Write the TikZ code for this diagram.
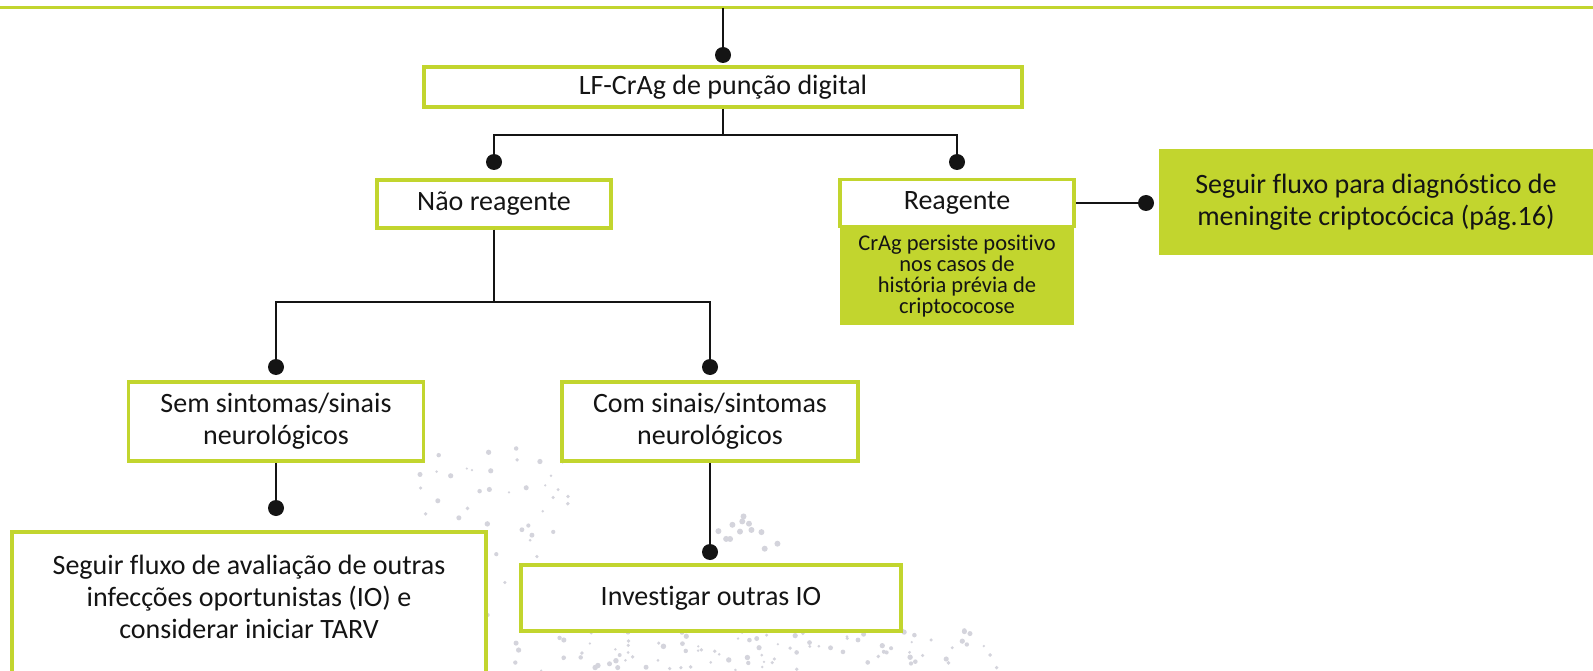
\documentclass[tikz,border=0pt]{standalone}
\usepackage{fontspec}
\setmainfont{Carlito}[Ligatures=NoCommon]
\definecolor{lime}{RGB}{194,213,46}
\definecolor{ink}{RGB}{20,20,20}
\definecolor{dotgray}{RGB}{212,212,220}
\begin{document}
\begin{tikzpicture}[x=1pt,y=-1pt,
  box/.style={draw=lime, line width=3.5pt, fill=white, inner sep=0pt, align=center, text=ink, font=\fontsize{28}{32}\selectfont},
  gbox/.style={fill=lime, inner sep=0pt, align=center, text=ink},
  plain/.style={inner sep=0pt, align=center, text=ink, font=\fontsize{28}{32}\selectfont},
  conn/.style={line width=2.8pt, draw=ink},
  dotnode/.style={circle, fill=ink, inner sep=0pt, minimum size=16pt}]
\useasboundingbox (0,0) rectangle (1593,671);
% faint background dots
\pgfmathsetseed{7}
\foreach \i in {1,...,80}{
  \pgfmathsetmacro{\px}{420+150*rnd}\pgfmathsetmacro{\py}{445+226*rnd}
  \pgfmathsetmacro{\pr}{1.2+1.6*rnd}
  \fill[dotgray] (\px,\py) circle (\pr pt);}
\foreach \i in {1,...,100}{
  \pgfmathsetmacro{\px}{560+450*rnd}\pgfmathsetmacro{\py}{628+43*rnd}
  \pgfmathsetmacro{\pr}{1.2+1.6*rnd}
  \fill[dotgray] (\px,\py) circle (\pr pt);}
\foreach \i in {1,...,12}{
  \pgfmathsetmacro{\px}{715+65*rnd}\pgfmathsetmacro{\py}{515+45*rnd}
  \fill[dotgray] (\px,\py) circle (3pt);}
% top rule
\coordinate (L0) at (0,8);
\coordinate (L1) at (1593,8);
\draw[lime, line width=3pt] (L0) -- (L1);
\coordinate (T) at (723,8);
% nodes
\node[box, minimum width=598, minimum height=40] (A) at (723,87) {LF-CrAg de punção digital};
\node[dotnode] (dA) at (723,55) {};
\node[box, minimum width=234, minimum height=48] (B) at (494,204) {Não reagente};
\node[gbox, minimum width=234, minimum height=98, font=\fontsize{22.5}{21}\selectfont] (C2) at (957,276) {CrAg persiste positivo\\nos casos de\\história prévia de\\criptococose};
\node[box, minimum width=234, minimum height=47] (C) at (957,203) {Reagente};
\node[dotnode] (dB) at (494,162) {};
\node[dotnode] (dC) at (957,162) {};
\node[gbox, minimum width=435, minimum height=106, font=\fontsize{28}{32}\selectfont] (D) at (1376,202) {Seguir fluxo para diagnóstico de\\meningite criptocócica (pág.16)};
\node[dotnode] (dD) at (1146,203) {};
\node[box, minimum width=295, minimum height=79] (E) at (276,421.5) {Sem sintomas/sinais\\neurológicos};
\node[box, minimum width=296, minimum height=79] (F) at (710,421.5) {Com sinais/sintomas\\neurológicos};
\node[dotnode] (dE) at (276,367) {};
\node[dotnode] (dF) at (710,367) {};
\node[dotnode] (dG) at (276,508) {};
\node[box, minimum width=474, minimum height=170, anchor=north] (G) at (249,530) {};
\node[plain] (Gt) at (249,597) {Seguir fluxo de avaliação de outras\\infecções oportunistas (IO) e\\considerar iniciar TARV};
\node[dotnode] (dH) at (710,552) {};
\node[box, minimum width=380, minimum height=66] (H) at (711,598) {Investigar outras IO};
% connectors
\coordinate (jA) at (723,135);
\coordinate (jB) at (494,302);
\draw[conn] (T) -- (dA.center);
\draw[conn] (A.south) -- (jA);
\draw[conn] (dB.center) |- (jA) -| (dC.center);
\draw[conn] (C.east) -- (dD.center);
\draw[conn] (B.south) -- (jB);
\draw[conn] (dE.center) |- (jB) -| (dF.center);
\draw[conn] (E.south) -- (dG.center);
\draw[conn] (F.south) -- (dH.center);
\end{tikzpicture}
\end{document}
